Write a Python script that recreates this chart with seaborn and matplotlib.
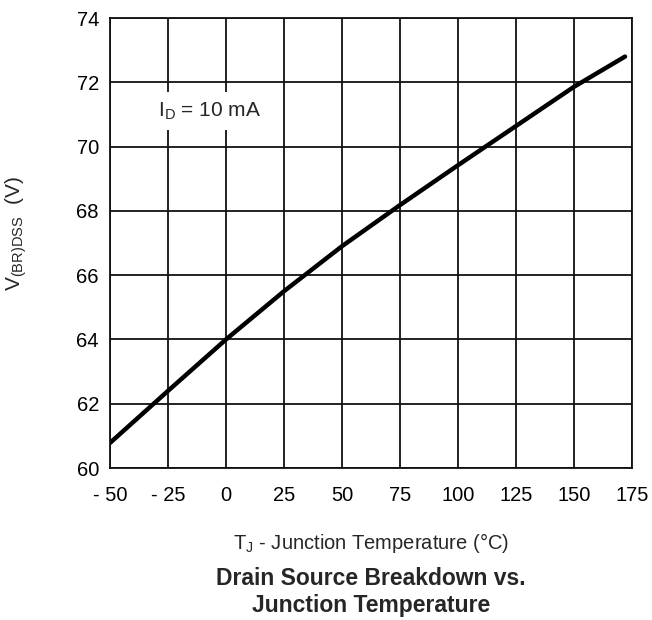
import matplotlib
matplotlib.use("Agg")
import matplotlib.pyplot as plt
import seaborn as sns
import pandas as pd

temps = [-50, -25, 0, 25, 50, 75, 100, 125, 150, 172]
vbr = [60.78, 62.4, 64.0, 65.5, 66.9, 68.18, 69.42, 70.64, 71.86, 72.8]
xticks = [-50, -25, 0, 25, 50, 75, 100, 125, 150, 175]
xticklabels = ["- 50", "- 25", "0", "25", "50", "75", "100", "125", "150", "175"]
yticks = [60, 62, 64, 66, 68, 70, 72, 74]

sns.set_style("white")
plt.rcParams['font.family'] = ['Liberation Sans', 'DejaVu Sans']

df = pd.DataFrame({"T": temps, "V": vbr})

fig = plt.figure(figsize=(6.52, 6.20), dpi=100)
ax = fig.add_axes([110/652, 1-468/620, 522/652, 450/620])

ax.set_xlim(-50, 175)
ax.set_ylim(60, 74)
ax.set_xticks(xticks)
ax.set_xticklabels(xticklabels)
ax.set_yticks(yticks)
ax.grid(True, color="#111111", linewidth=1.3)
ax.set_axisbelow(True)
for s in ax.spines.values():
    s.set_color("#111111")
    s.set_linewidth(1.3)
ax.tick_params(length=0, labelsize=14.5, colors="black")
ax.tick_params(axis="x", pad=13)
ax.tick_params(axis="y", pad=8)

sns.lineplot(data=df, x="T", y="V", ax=ax, color="black", linewidth=3.2)

ax.set_xlabel(r"T$_\mathregular{J}$ - Junction Temperature (°C)", fontsize=14.5, labelpad=19)
ax.set_ylabel(r"V$_\mathregular{(BR)DSS}$  (V)", fontsize=15)
ax.yaxis.set_label_coords(-0.155, 0.52)

ax.text(-7, 71.1, r"I$_\mathregular{D}$ = 10 mA", fontsize=15, ha="center", va="center",
        bbox=dict(facecolor="white", edgecolor="none", pad=6), zorder=5)

fig.text(371/652, 1-592/620, "Drain Source Breakdown vs.\nJunction Temperature",
         ha="center", va="center", fontsize=16.5, fontweight="bold", linespacing=1.2)

fig.savefig("out.png", dpi=100)
